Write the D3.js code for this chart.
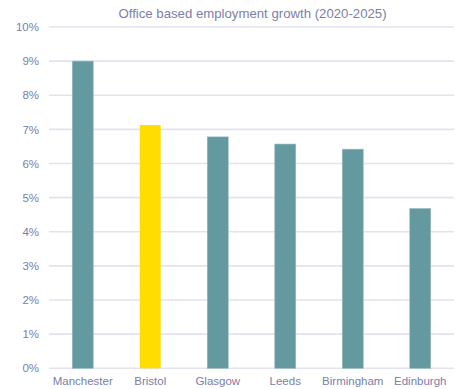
<!DOCTYPE html>
<html>
<head>
<meta charset="utf-8">
<script src="https://cdn.jsdelivr.net/npm/d3@7"></script>
<style>
  html, body { margin: 0; padding: 0; background: #fff; }
  svg { display: block; font-family: "Liberation Sans", Arial, sans-serif; }
</style>
</head>
<body>
<svg id="chart" width="462" height="389"></svg>
<script>
const cities = ["Manchester", "Bristol", "Glasgow", "Leeds", "Birmingham", "Edinburgh"];
const growth = [9.0, 7.13, 6.78, 6.57, 6.42, 4.68];
const highlight = ["Bristol"];
const yTicks = [0, 1, 2, 3, 4, 5, 6, 7, 8, 9, 10];

const svg = d3.select("#chart");
const margin = {top: 27, right: 8, bottom: 20, left: 49};
const width = 462 - margin.left - margin.right;
const height = 389 - margin.top - margin.bottom - 0.7;

const textColor = "#7a80aa";

const x = d3.scaleBand().domain(cities).range([0, width]).paddingInner(0.69).paddingOuter(0.345);
const y = d3.scaleLinear().domain([0, 10]).range([height, 0]);

const g = svg.append("g").attr("transform", "translate(" + margin.left + "," + margin.top + ")");

// gridlines
g.selectAll("line.grid")
  .data(yTicks)
  .enter()
  .append("line")
  .attr("class", "grid")
  .attr("x1", 0).attr("x2", width)
  .attr("y1", d => y(d)).attr("y2", d => y(d))
  .attr("stroke", "#e3e3ef")
  .attr("stroke-width", 1.6);

// y axis labels
const yAxis = g.append("g").call(d3.axisLeft(y).tickValues(yTicks).tickFormat(d => d + "%").tickSize(0).tickPadding(10));
yAxis.select(".domain").remove();
yAxis.selectAll("text").attr("fill", textColor).style("font-size", "11.5px");

// bars
g.selectAll("rect.bar")
  .data(cities)
  .enter()
  .append("rect")
  .attr("class", "bar")
  .attr("x", d => x(d))
  .attr("width", x.bandwidth())
  .attr("y", (d, i) => y(growth[i]))
  .attr("height", (d, i) => height - y(growth[i]))
  .attr("fill", d => highlight.includes(d) ? "#ffdd00" : "#6499a0")
  .attr("stroke", d => highlight.includes(d) ? "none" : "#8fb7bc")
  .attr("stroke-width", 0.6);

// x axis labels
const xAxis = g.append("g").attr("transform", "translate(0," + height + ")")
  .call(d3.axisBottom(x).tickSize(0).tickPadding(9));
xAxis.select(".domain").remove();
xAxis.selectAll("text").attr("fill", textColor).style("font-size", "11.5px");

// title
svg.append("text")
  .attr("x", margin.left + width / 2 + 1)
  .attr("y", 18)
  .attr("text-anchor", "middle")
  .attr("fill", textColor)
  .style("font-size", "13.2px")
  .text("Office based employment growth (2020-2025)");
</script>
</body>
</html>
